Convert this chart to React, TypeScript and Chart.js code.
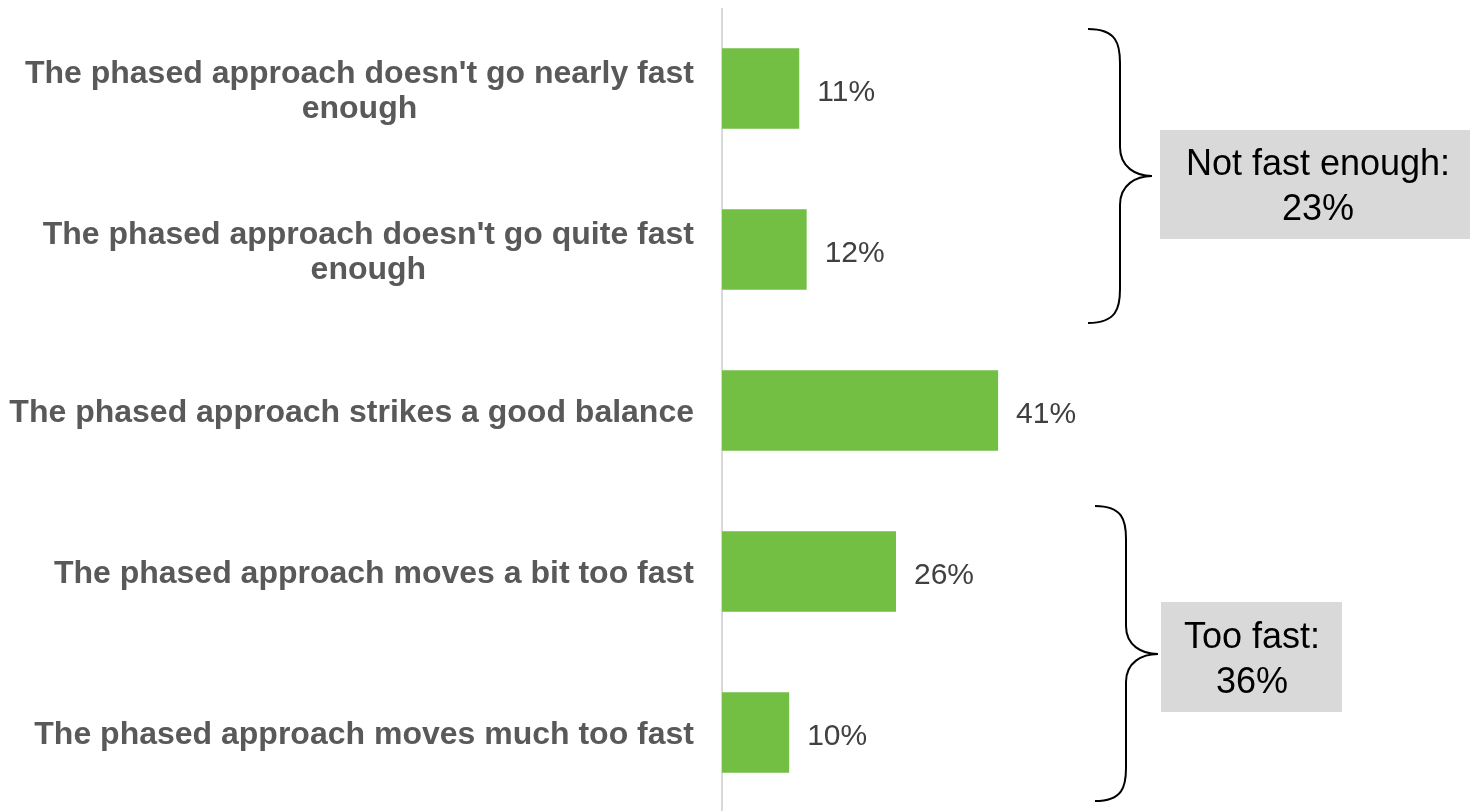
import React, { useEffect, useRef } from "react";
import { Chart, registerables } from "chart.js";

Chart.register(...registerables);

const categories: string[][] = [
  ["The phased approach doesn't go nearly fast", "enough"],
  ["The phased approach doesn't go quite fast", "enough"],
  ["The phased approach strikes a good balance"],
  ["The phased approach moves a bit too fast"],
  ["The phased approach moves much too fast"],
];
const values: number[] = [11.5, 12.6, 41.1, 25.9, 10.0];
const valueLabels: string[] = ["11%", "12%", "41%", "26%", "10%"];
const groupLabels: string[][] = [
  ["Not fast enough:", "23%"],
  ["Too fast:", "36%"],
];

const FONT = '"Liberation Sans", Arial, Helvetica, sans-serif';

function drawBrace(
  ctx: CanvasRenderingContext2D,
  xEnd: number,
  xv: number,
  xTip: number,
  yTop: number,
  yMid: number,
  yBot: number,
  rEnd: number,
  rMid: number
) {
  ctx.beginPath();
  ctx.moveTo(xEnd, yTop);
  ctx.bezierCurveTo(xv - (xv - xEnd) * 0.1, yTop, xv, yTop + rEnd * 0.45, xv, yTop + rEnd);
  ctx.lineTo(xv, yMid - rMid);
  ctx.bezierCurveTo(xv, yMid - rMid * 0.3, xTip - (xTip - xv) * 0.5, yMid, xTip, yMid);
  ctx.bezierCurveTo(xTip - (xTip - xv) * 0.5, yMid, xv, yMid + rMid * 0.3, xv, yMid + rMid);
  ctx.lineTo(xv, yBot - rEnd);
  ctx.bezierCurveTo(xv, yBot - rEnd * 0.45, xv - (xv - xEnd) * 0.1, yBot, xEnd, yBot);
  ctx.stroke();
}

const decorPlugin = {
  id: "decor",
  beforeDatasetsDraw(chart: any) {
    const { ctx, chartArea } = chart;
    ctx.save();
    ctx.fillStyle = "#D9D9D9";
    ctx.fillRect(chartArea.left - 1, chartArea.top, 2, chartArea.bottom - chartArea.top);
    ctx.restore();
  },
  afterDatasetsDraw(chart: any) {
    const { ctx, chartArea } = chart;
    const yScale = chart.scales.y;
    ctx.save();
    // category labels
    ctx.font = `bold 32px ${FONT}`;
    ctx.fillStyle = "#595959";
    ctx.textAlign = "center";
    ctx.textBaseline = "middle";
    categories.forEach((lines, i) => {
      const y = yScale.getPixelForValue(i) + 3;
      const maxW = Math.max(...lines.map((l) => ctx.measureText(l).width));
      const cx = chartArea.left - 28 - maxW / 2;
      lines.forEach((l, j) => {
        ctx.fillText(l, cx, y + (j - (lines.length - 1) / 2) * 35);
      });
    });
    // value labels
    const meta = chart.getDatasetMeta(0);
    ctx.font = `30px ${FONT}`;
    ctx.fillStyle = "#404040";
    ctx.textAlign = "left";
    meta.data.forEach((bar: any, i: number) => {
      ctx.fillText(valueLabels[i], bar.x + 18, bar.y + 4);
    });
    // braces
    ctx.strokeStyle = "#000000";
    ctx.lineWidth = 2;
    drawBrace(ctx, 1088, 1120, 1152, 29, 176, 323, 34, 29);
    drawBrace(ctx, 1095, 1126, 1158, 506, 654, 801, 33, 28);
    // boxes
    ctx.fillStyle = "#D9D9D9";
    ctx.fillRect(1160, 130, 320, 109);
    ctx.fillRect(1161, 602, 181, 110);
    ctx.fillStyle = "#000000";
    ctx.font = `36px ${FONT}`;
    ctx.textAlign = "center";
    ctx.fillText(groupLabels[0][0], 1318, 165);
    ctx.fillText(groupLabels[0][1], 1318, 210);
    ctx.fillText(groupLabels[1][0], 1252, 638);
    ctx.fillText(groupLabels[1][1], 1252, 683);
    ctx.restore();
  },
};

export default function App() {
  const ref = useRef<HTMLCanvasElement | null>(null);
  useEffect(() => {
    document.body.style.margin = "0";
    document.body.style.overflow = "hidden";
    document.documentElement.style.overflow = "hidden";
    if (!ref.current) return;
    const chart = new Chart(ref.current, {
      type: "bar",
      data: {
        labels: categories.map((c) => c.join(" ")),
        datasets: [
          {
            data: values,
            backgroundColor: "#72BF44",
            borderWidth: 0,
            barPercentage: 0.5,
            categoryPercentage: 1,
          },
        ],
      },
      options: {
        indexAxis: "y",
        responsive: false,
        animation: false,
        layout: { padding: { left: 722, right: 9, top: 8, bottom: 0 } },
        scales: {
          x: { display: false, min: 0, max: 110 },
          y: { display: false },
        },
        plugins: { legend: { display: false }, tooltip: { enabled: false } },
      },
      plugins: [decorPlugin],
    });
    return () => chart.destroy();
  }, []);
  return <canvas ref={ref} width={1470} height={813} style={{ display: "block" }} />;
}
